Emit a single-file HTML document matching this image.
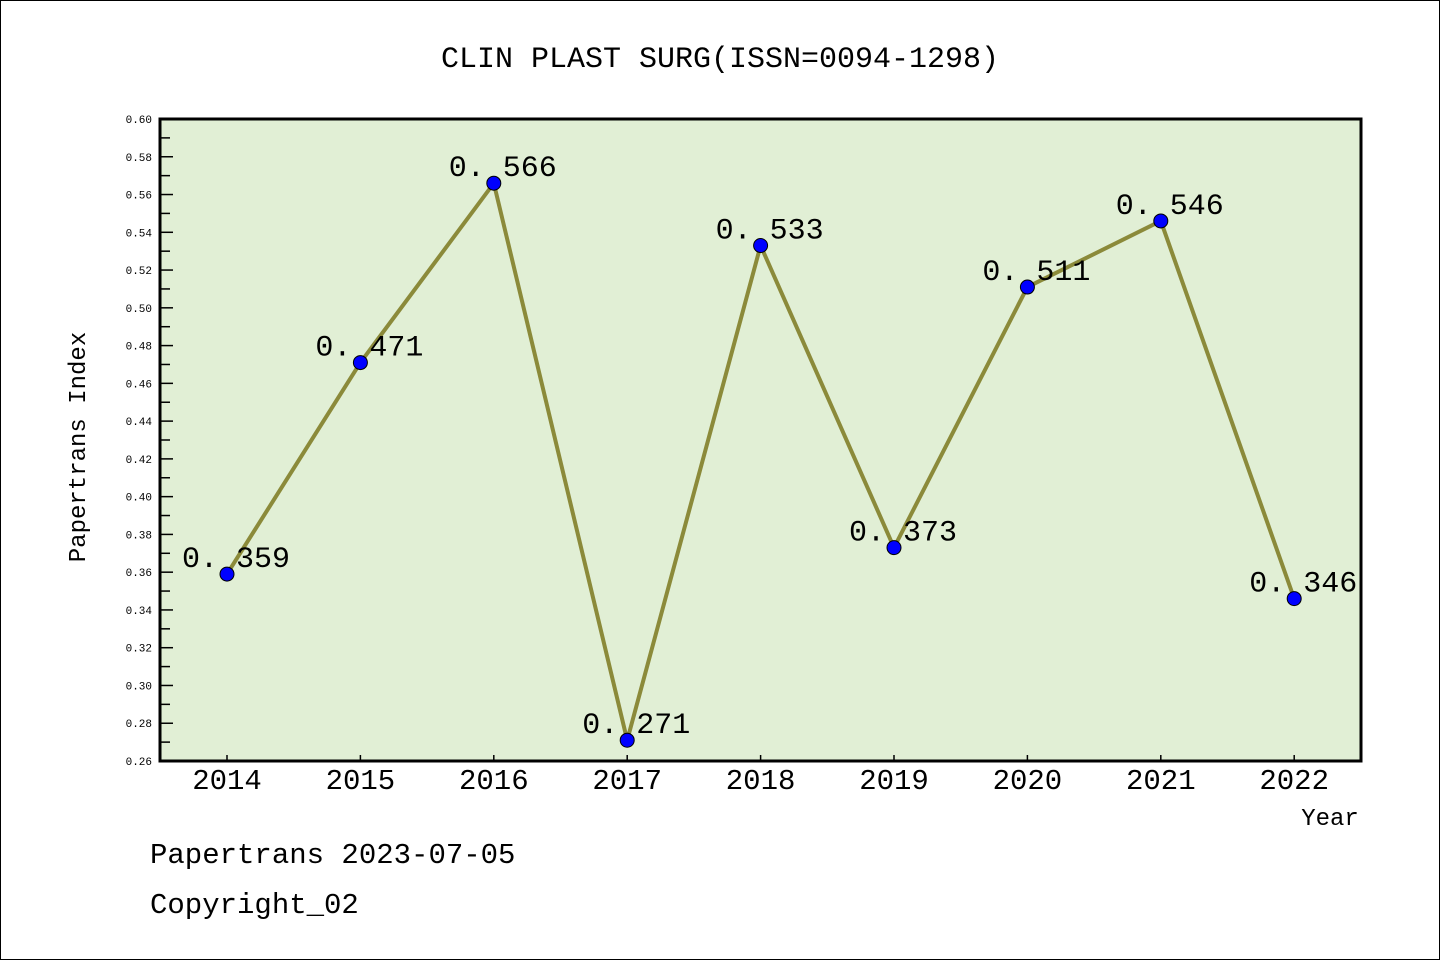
<!DOCTYPE html>
<html><head><meta charset="utf-8"><style>
body{margin:0;background:#fff}
svg{display:block}
text{font-family:"Liberation Mono","DejaVu Sans Mono",monospace}
</style></head><body>
<svg id="c" width="1440" height="960">
<rect x="0.5" y="0.5" width="1439" height="959" fill="#fff" stroke="#000"/>
<text x="720" y="67" text-anchor="middle" font-size="30">CLIN PLAST SURG(ISSN=0094-1298)</text>
<rect x="160" y="119" width="1201" height="642" fill="#e1efd5"/>
<g id="ticks"></g>
<g id="series"></g>
<rect x="160" y="119" width="1201" height="642" fill="none" stroke="#000" stroke-width="3"/>
<text transform="translate(85,447) rotate(-90)" text-anchor="middle" font-size="24">Papertrans Index</text>
<text x="1330" y="825" text-anchor="middle" font-size="24">Year</text>
<text x="150" y="863" font-size="29">Papertrans 2023-07-05</text>
<text x="150" y="913" font-size="29">Copyright_02</text>
</svg>
<script>
const years=["2014","2015","2016","2017","2018","2019","2020","2021","2022"];
const values=[0.359,0.471,0.566,0.271,0.533,0.373,0.511,0.546,0.346];
const yTicks=["0.26","0.28","0.30","0.32","0.34","0.36","0.38","0.40","0.42","0.44","0.46","0.48","0.50","0.52","0.54","0.56","0.58","0.60"];
{
const NS="http://www.w3.org/2000/svg";
const yMin=0.26,yMax=0.60,yTop=119,yBot=761;
const yS=v=>yBot-(v-yMin)/(yMax-yMin)*(yBot-yTop);
const xS=i=>227+i*133.4;
function mk(t,a,p){const e=document.createElementNS(NS,t);for(const k in a)e.setAttribute(k,a[k]);p.appendChild(e);return e;}
const tg=document.getElementById('ticks'),sg=document.getElementById('series');
yTicks.forEach(t=>{const v=parseFloat(t);const yy=yS(v);
const l=mk('line',{x1:160,x2:173,y1:yy,y2:yy,stroke:'#000','stroke-width':1.5},tg);


const tx=mk('text',{x:152,y:yy+4,'text-anchor':'end','font-size':11,'font-family':'DejaVu Sans, sans-serif'},tg);tx.textContent=t;


if(v<yMax-0.001){const m=mk('line',{x1:160,x2:170,y1:yS(v+0.01),y2:yS(v+0.01),stroke:'#000','stroke-width':1.5},tg);

}
});
years.forEach((yr,i)=>{
const l=mk('line',{x1:xS(i),x2:xS(i),y1:yBot,y2:yBot-6,stroke:'#000','stroke-width':1.5},tg);


const t=mk('text',{x:xS(i),y:789,'text-anchor':'middle','font-size':29,'font-family':'Liberation Sans, sans-serif'},tg);t.textContent=yr;


});
const pl=mk('polyline',{points:values.map((v,i)=>xS(i)+','+yS(v)).join(' '),fill:'none',stroke:'#8b8a3a','stroke-width':4},sg);


values.forEach((v,i)=>{
const c=mk('circle',{cx:xS(i),cy:yS(v),r:7,fill:'#0000ff',stroke:'#000','stroke-width':1},sg);


const t=mk('text',{x:xS(i)-45,y:yS(v)-7,'font-size':30},sg);t.textContent=v.toFixed(3).replace('.','. ');


});
}
</script>
</body></html>
